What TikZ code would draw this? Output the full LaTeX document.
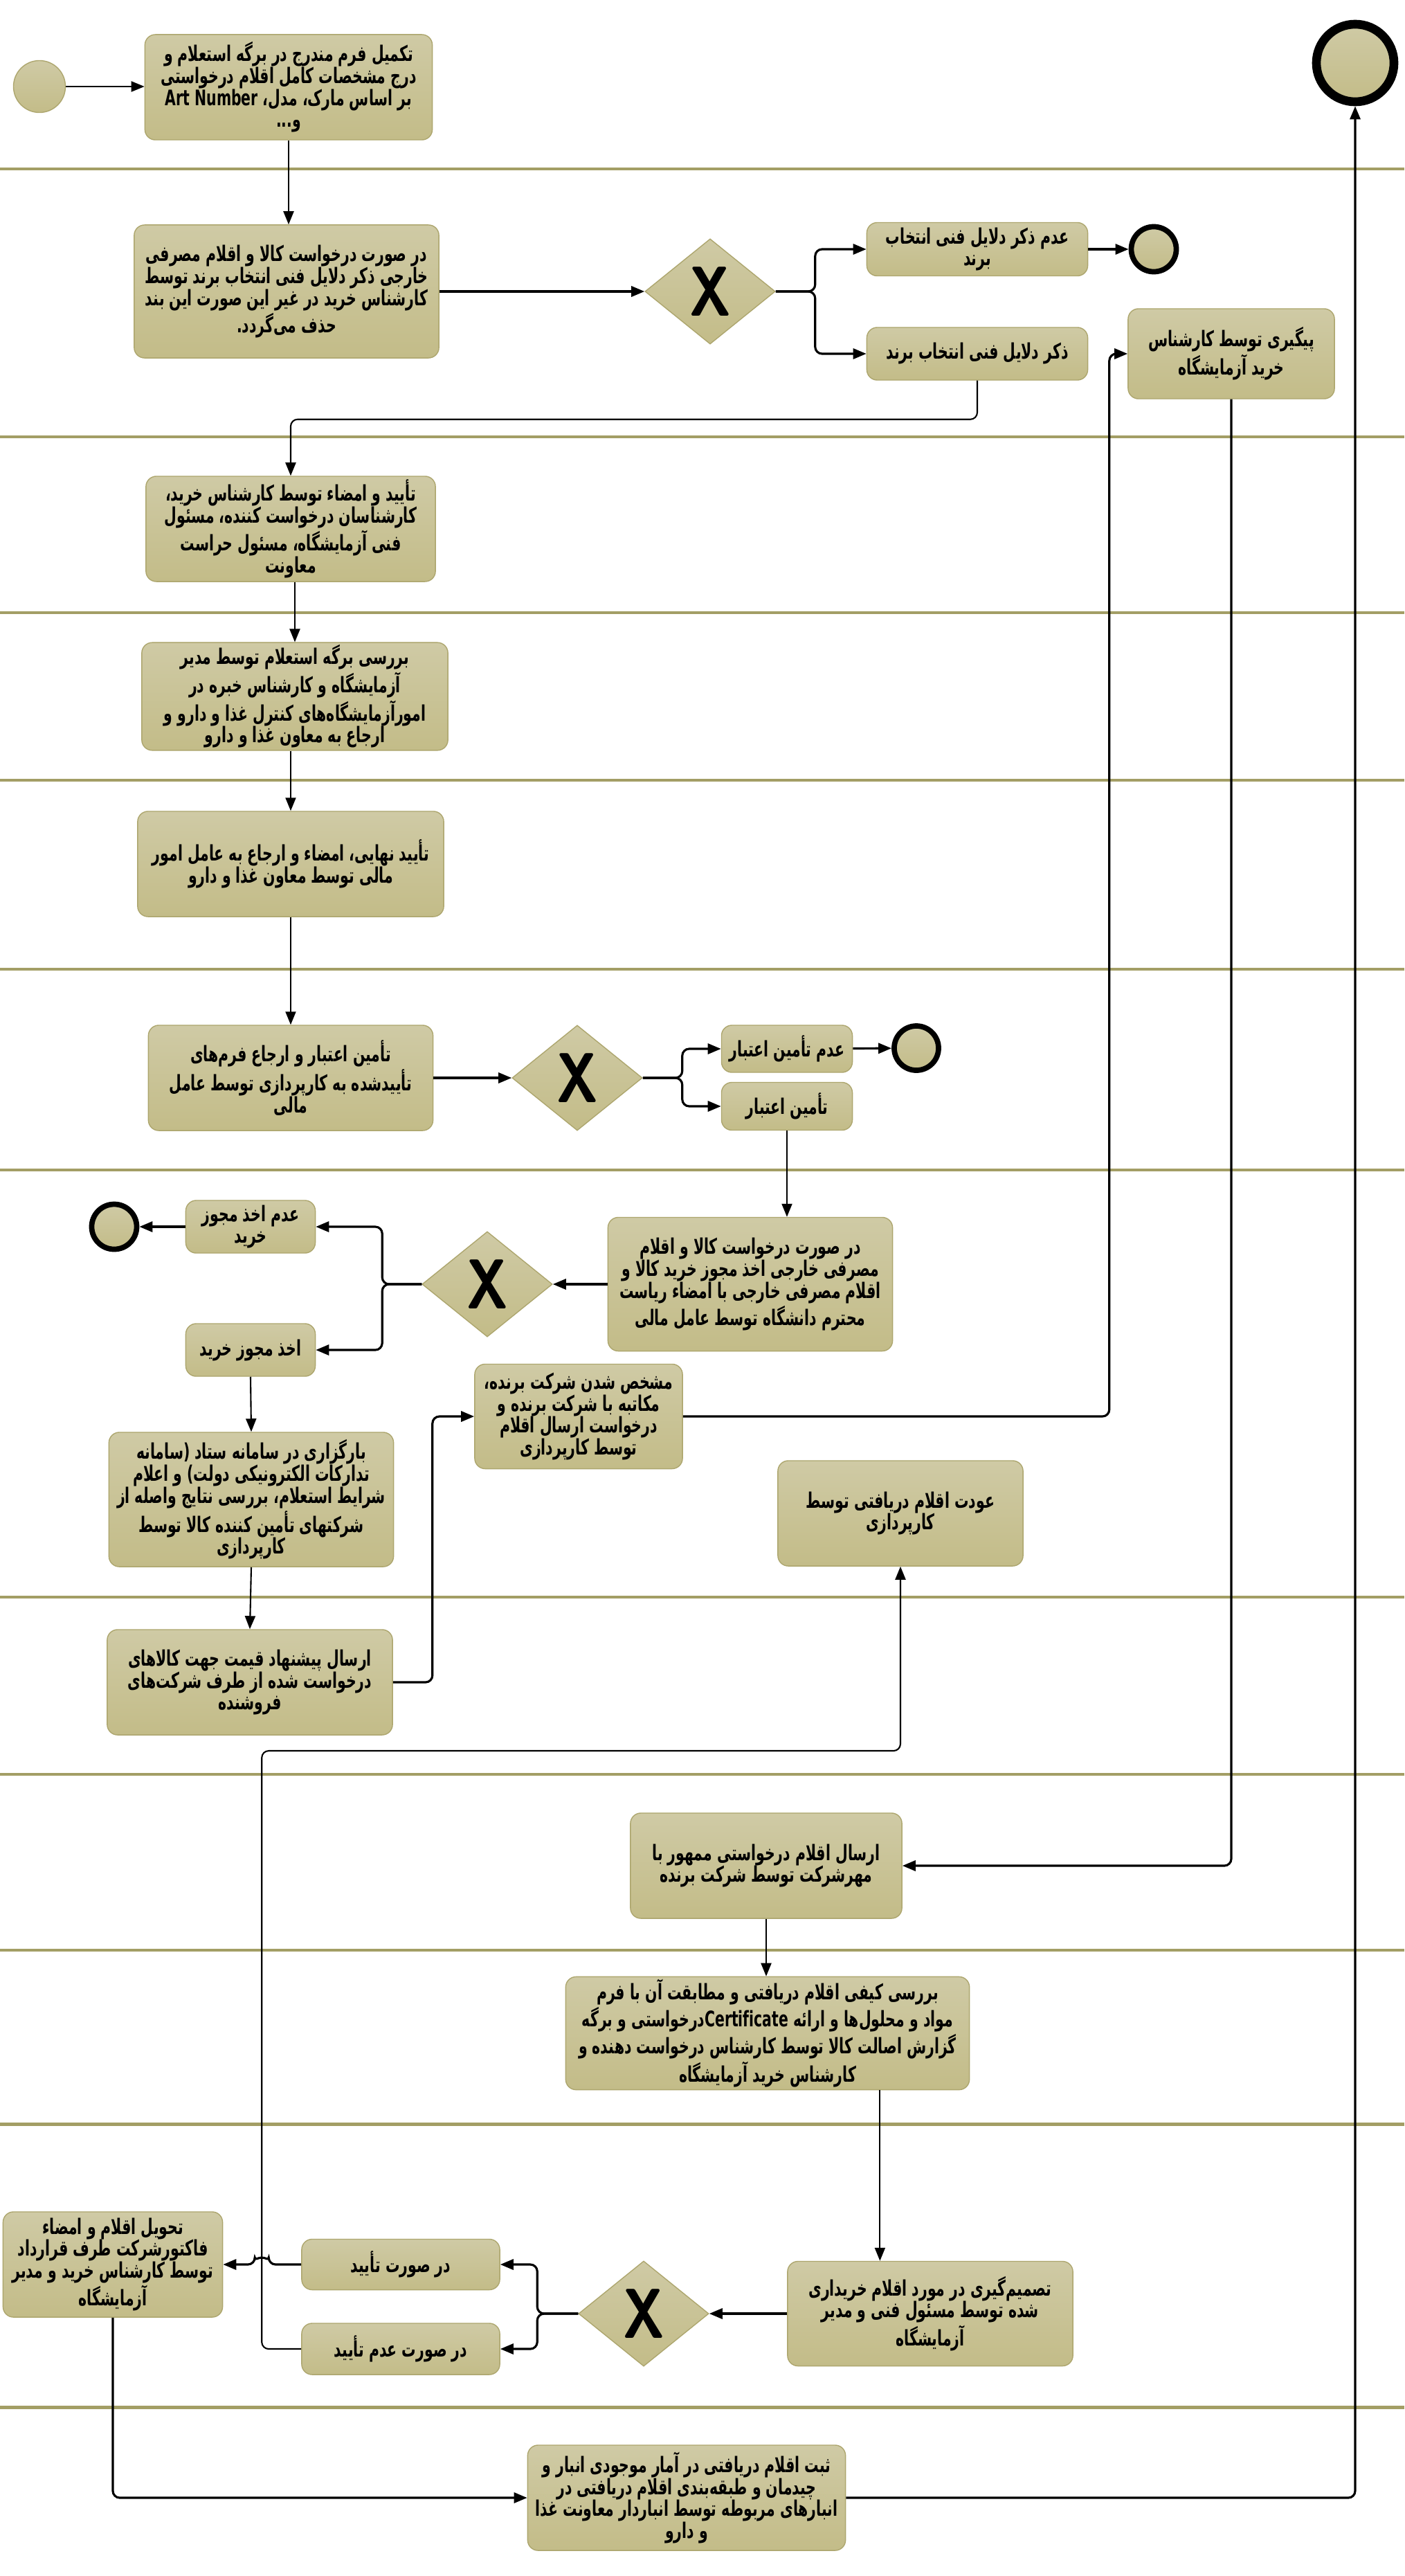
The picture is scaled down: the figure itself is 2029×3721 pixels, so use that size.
\documentclass[tikz,border=0pt]{standalone}
\usepackage{fontspec}
\newfontfamily\fafont[Script=Arabic,FakeStretch=0.66]{DejaVu Sans}
\TeXXeTstate=1
\usepackage{tikz}
\usetikzlibrary{
  arrows.meta,
  shapes.geometric,
  calc
}
\usepackage{xcolor}
\definecolor{boxtop}{HTML}{CFCAA5}
\definecolor{boxbot}{HTML}{C3BC88}
\definecolor{boxline}{HTML}{ADA66E}
\definecolor{lanecolor}{HTML}{A39E65}
\newcommand{\rtext}[1]{\beginR #1\endR}
\newcommand{\gwx}{\scalebox{0.8}[1]{\fontsize{29}{29}\selectfont\sffamily\bfseries X}}
\tikzset{
  task/.style={
    rectangle,
    rounded corners=1.5mm,
    draw=boxline,
    top color=boxtop,
    bottom color=boxbot,
    align=center,
    minimum height=1.52cm,
    inner sep=1pt,
    font=\fafont\bfseries\fontsize{8.8}{9}\selectfont
  },
  gateway/.style={
    diamond,
    draw=boxline,
    top color=boxtop,
    bottom color=boxbot,
    inner sep=0pt,
    minimum width=1.88cm,
    minimum height=1.52cm
  },
  startevent/.style={
    circle,
    draw=boxline,
    top color=boxtop,
    bottom color=boxbot,
    inner sep=0pt,
    minimum size=0.75cm
  },
  endevent/.style={
    circle,
    draw=black,
    line width=2.2pt,
    top color=boxtop,
    bottom color=boxbot,
    inner sep=0pt,
    minimum size=0.65cm
  },
  arrow/.style={
    -{Triangle[length=1.9mm,width=1.5mm]},
    line width=0.6pt,
    draw=black
  },
  branch/.style={
    arrow,
    line width=0.9pt,
    rounded corners=1mm
  },
  lane/.style={
    line width=1.4pt,
    draw=lanecolor
  }
}

\begin{document}
\begin{tikzpicture}[x=0.01cm,y=-0.01cm]
\useasboundingbox (0,0) rectangle (2029,3721);

% lanes
\foreach \y in {244,631,885,1127,1400,1690,2307,2563,2817,3068,3477}
  \draw[lane] (0,\y) -- (2029,\y);

% request
\node[startevent] (start) at (57,125) {};
\node[task,minimum width=4.15cm] (fill) at (417,126) {\rtext{تکمیل فرم مندرج در برگه استعلام و}\\\rtext{درج مشخصات کامل اقلام درخواستی}\\\rtext{بر اساس مارک، مدل، \beginL Art Number\endL}\\\rtext{و...}};
\node[endevent,minimum size=1.12cm,line width=3.6pt] (finish) at (1958,91) {};

% brand
\node[task,minimum width=4.40cm,minimum height=1.92cm] (brandreq) at (414,421) {\rtext{در صورت درخواست کالا و اقلام مصرفی}\\\rtext{خارجی ذکر دلایل فنی انتخاب برند توسط}\\\rtext{کارشناس خرید در غیر این صورت این بند}\\\rtext{حذف می‌گردد.}};
\node[gateway] (gwbrand) at (1026,421) {\gwx};
\node[task,minimum width=3.19cm,minimum height=0.77cm] (noreason) at (1412,360) {\rtext{عدم ذکر دلایل فنی انتخاب}\\\rtext{برند}};
\node[endevent] (endreason) at (1667,360) {};
\node[task,minimum width=3.19cm,minimum height=0.76cm] (reason) at (1412,511) {\rtext{ذکر دلایل فنی انتخاب برند}};
\node[task,minimum width=2.98cm,minimum height=1.30cm] (followup) at (1779,511) {\rtext{پیگیری توسط کارشناس}\\\rtext{خرید آزمایشگاه}};

% approvals
\node[task,minimum width=4.18cm] (sign) at (420,764) {\rtext{تأیید و امضاء توسط کارشناس خرید،}\\\rtext{کارشناسان درخواست کننده، مسئول}\\\rtext{فنی آزمایشگاه، مسئول حراست}\\\rtext{معاونت}};
\node[task,minimum width=4.42cm] (review) at (426,1006) {\rtext{بررسی برگه استعلام توسط مدیر}\\\rtext{آزمایشگاه و کارشناس خبره در}\\\rtext{امورآزمایشگاه‌های کنترل غذا و دارو و}\\\rtext{ارجاع به معاون غذا و دارو}};
\node[task,minimum width=4.42cm] (approve) at (420,1248) {\rtext{تأیید نهایی، امضاء و ارجاع به عامل امور}\\\rtext{مالی توسط معاون غذا و دارو}};

% credit
\node[task,minimum width=4.11cm] (credit) at (420,1557) {\rtext{تأمین اعتبار و ارجاع فرم‌های}\\\rtext{تأییدشده به کارپردازی توسط عامل}\\\rtext{مالی}};
\node[gateway] (gwcredit) at (834,1557) {\gwx};
\node[task,minimum width=1.89cm,minimum height=0.68cm] (nocredit) at (1137,1515) {\rtext{عدم تأمین اعتبار}};
\node[endevent,minimum size=0.64cm] (endcredit) at (1324,1514) {};
\node[task,minimum width=1.89cm,minimum height=0.69cm] (hascredit) at (1137,1598) {\rtext{تأمین اعتبار}};

% permit
\node[task,minimum width=4.11cm,minimum height=1.93cm] (permitreq) at (1084,1855) {\rtext{در صورت درخواست کالا و اقلام}\\\rtext{مصرفی خارجی اخذ مجوز خرید کالا و}\\\rtext{اقلام مصرفی خارجی با امضاء ریاست}\\\rtext{محترم دانشگاه توسط عامل مالی}};
\node[gateway] (gwpermit) at (704,1855) {\gwx};
\node[task,minimum width=1.87cm,minimum height=0.76cm] (nopermit) at (362,1772) {\rtext{عدم اخذ مجوز}\\\rtext{خرید}};
\node[endevent] (endpermit) at (165,1772) {};
\node[task,minimum width=1.87cm,minimum height=0.76cm] (permit) at (362,1950) {\rtext{اخذ مجوز خرید}};

% tender
\node[task,minimum width=4.11cm,minimum height=1.94cm] (upload) at (363,2166) {\rtext{بارگزاری در سامانه ستاد (سامانه}\\\rtext{تدارکات الکترونیکی دولت) و اعلام}\\\rtext{شرایط استعلام، بررسی نتایج واصله از}\\\rtext{شرکتهای تأمین کننده کالا توسط}\\\rtext{کارپردازی}};
\node[task,minimum width=3.00cm,minimum height=1.51cm] (winner) at (836,2046) {\rtext{مشخص شدن شرکت برنده،}\\\rtext{مکاتبه با شرکت برنده و}\\\rtext{درخواست ارسال اقلام}\\\rtext{توسط کارپردازی}};
\node[task,minimum width=3.54cm] (returned) at (1301,2186) {\rtext{عودت اقلام دریافتی توسط}\\\rtext{کارپردازی}};
\node[task,minimum width=4.12cm] (offer) at (361,2430) {\rtext{ارسال پیشنهاد قیمت جهت کالاهای}\\\rtext{درخواست شده از طرف شرکت‌های}\\\rtext{فروشنده}};

% delivery
\node[task,minimum width=3.92cm] (sent) at (1107,2695) {\rtext{ارسال اقلام درخواستی ممهور با}\\\rtext{مهرشرکت توسط شرکت برنده}};
\node[task,minimum width=5.83cm] (check) at (1109,2937) {\rtext{بررسی کیفی اقلام دریافتی و مطابقت آن با فرم}\\\rtext{مواد و محلول‌ها و ارائه \beginL Certificate\endL درخواستی و برگه}\\\rtext{گزارش اصالت کالا توسط کارشناس درخواست دهنده و}\\\rtext{کارشناس خرید آزمایشگاه}};

% decision
\node[task,minimum width=4.12cm,minimum height=1.51cm] (decide) at (1344,3342) {\rtext{تصمیم‌گیری در مورد اقلام خریداری}\\\rtext{شده توسط مسئول فنی و مدیر}\\\rtext{آزمایشگاه}};
\node[gateway] (gwdecide) at (930,3342) {\gwx};
\node[task,minimum width=2.86cm,minimum height=0.73cm] (approved) at (579,3271) {\rtext{در صورت تأیید}};
\node[task,minimum width=2.86cm,minimum height=0.74cm] (rejected) at (579,3393) {\rtext{در صورت عدم تأیید}};
\node[task,minimum width=3.17cm] (deliver) at (163,3271) {\rtext{تحویل اقلام و امضاء}\\\rtext{فاکتورشرکت طرف قرارداد}\\\rtext{توسط کارشناس خرید و مدیر}\\\rtext{آزمایشگاه}};
\node[task,minimum width=4.59cm] (store) at (992,3608) {\rtext{ثبت اقلام دریافتی در آمار موجودی انبار و}\\\rtext{چیدمان و طبقه‌بندی اقلام دریافتی در}\\\rtext{انبارهای مربوطه توسط انباردار معاونت غذا}\\\rtext{و دارو}};

% flow
\draw[arrow] (start) -- (start -| fill.west);
\draw[arrow] (fill.south) -- (fill.south |- brandreq.north);
\draw[branch] (brandreq) -- (gwbrand);
\draw[branch] (gwbrand.east) -- ++(57,0) |- (noreason.west);
\draw[branch] (gwbrand.east) -- ++(57,0) |- (reason.west);
\draw[branch] (noreason) -- (endreason);
\draw[arrow,rounded corners=1mm] (reason.south) -- ++(0,56) -| (sign.north);
\draw[arrow] (review.north |- sign.south) -- (review.north);
\draw[arrow] (approve.north |- review.south) -- (approve.north);
\draw[arrow] (approve.south) -- (credit.north);
\draw[branch] (credit) -- (gwcredit);
\draw[branch] (gwcredit.east) -- ++(57,0) |- (nocredit.west);
\draw[branch] (gwcredit.east) -- ++(57,0) |- (hascredit.west);
\draw[branch] (nocredit) -- (endcredit);
\draw[arrow] (hascredit.south) -- (hascredit.south |- permitreq.north);
\draw[branch] (permitreq) -- (gwpermit);
\draw[branch] (gwpermit.west) -- ++(-57,0) |- (nopermit.east);
\draw[branch] (gwpermit.west) -- ++(-57,0) |- (permit.east);
\draw[branch] (nopermit) -- (endpermit);
\draw[arrow] (permit.south) -- (upload.north);
\draw[arrow] (upload.south) -- (offer.north);
\draw[branch] (offer.east) -- ++(57,0) |- (winner.west);
\draw[branch] (winner.east) -- ++(616,0) |- (followup.west);
\draw[branch] (followup.south) |- (sent.east);
\draw[arrow] (sent.south) -- (sent.south |- check.north);
\draw[arrow] ($(check.south east)+(-130,0)$) coordinate (checkout) -- (checkout |- decide.north);
\draw[branch] (decide) -- (gwdecide);
\draw[branch] (gwdecide.west) -- ++(-59,0) |- (approved.east);
\draw[branch] (gwdecide.west) -- ++(-59,0) |- (rejected.east);
\draw[arrow,rounded corners=1mm] (rejected.west) -- ++(-57,0) -- ++(0,-864) -| (returned.south);
\draw[branch] (approved.west) -- ++(-47,0) arc[start angle=0,end angle=180,radius=1mm] -- (deliver.east);
\draw[branch] (deliver.south) |- (store.west);
\draw[branch] (store.east) -| (finish.south);
\end{tikzpicture}
\end{document}
